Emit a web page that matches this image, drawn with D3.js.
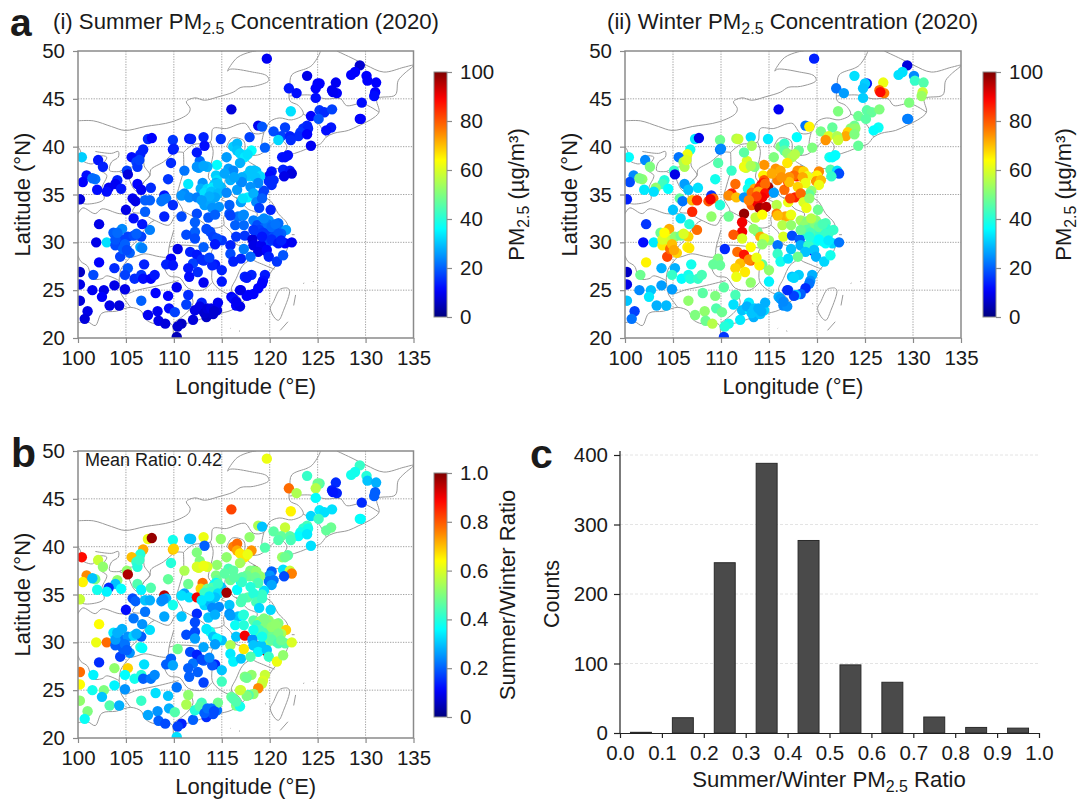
<!DOCTYPE html>
<html><head><meta charset="utf-8">
<script src="https://cdn.jsdelivr.net/npm/d3@7"></script>
<style>
html,body{margin:0;padding:0;background:#fff}
svg{display:block}
text{font-family:"Liberation Sans",Arial,sans-serif;fill:#1a1a1a}
</style></head><body>
<svg id="c" width="1080" height="803"></svg>
<script>
// Stations: [longitude, latitude, summer PM2.5, winter PM2.5, summer/winter ratio]
const northeast=[[119.7,49.2,10,14,.62],[129.4,48.5,7,8,.42],[128.9,47.8,11,33,.38],[128.5,47.5,11,33,.38],[130.1,47.4,11,24,.4],[130.2,46.9,11,42,.3],[131.1,46.7,11,45,.28],[123.9,47.4,9,33,.42],[125.2,46.6,11,13,.45],[125,46.6,11,31,.48],[124.8,46.1,11,30,.56],[126.9,46.7,10,62,.15],[126.5,45.9,10,78,.14],[127,45.6,11,76,.14],[126.6,45.7,10,88,.13],[131,45.7,11,58,.2],[130.9,45.3,12,53,.2],[122,46.1,13,22,.78],[122.8,45.6,12,26,.55],[124.8,45.1,12,31,.36],[129.6,44.6,12,50,.15],[116,43.9,8,10,.82],[122.2,43.7,33,50,.65],[125.2,43.8,16,46,.34],[125.7,43.6,15,47,.33],[126.5,43.9,17,50,.33],[124.3,43.2,11,48,.32],[125.1,42.9,19,46,.43],[129.4,42.9,10,22,.38],[129.5,42.9,11,23,.36],[126.4,42,13,37,.48],[125.9,41.7,12,36,.47],[118.8,42.2,10,22,.55],[119.2,42.1,19,65,.3],[120.4,41.6,18,49,.46],[121.6,42,17,47,.58],[123.9,42.2,14,48,.44],[123.5,41.9,15,51,.42],[124,41.9,14,52,.38],[123.2,41.5,16,68,.38],[123,41.1,15,72,.36],[123.9,41.3,11,50,.34],[117.9,41,17,36,.52],[121.2,41.1,17,60,.47],[120.9,40.7,32,74,.45],[122.1,41.1,14,55,.46],[122.2,40.7,15,58,.44],[124.3,40.1,10,47,.33],[119.5,39.9,20,50,.45]];
const shandongCoast=[[121.9,39.1,12,36,.46],[121.3,38.9,13,38,.53],[121.6,38.9,12,36,.48],[120.2,37.4,13,75,.2],[120,37,12,65,.25],[121.4,37.6,14,45,.33],[122.1,37.5,13,33,.58],[122.3,37.2,8,18,.76],[121.5,36.9,9,42,.18],[119.9,36.4,15,74,.22],[120.4,36.5,15,70,.22],[120.2,36,15,62,.27],[119.4,35.4,17,52,.33],[119.2,35,17,47,.42]];
const northChina=[[116.2,40,31,50,.76],[116.6,40.3,29,42,.78],[116.6,39.6,30,46,.72],[116.9,39.3,32,52,.66],[117.4,38.9,34,55,.66],[118.1,39.6,36,48,.74],[117.7,39.2,33,56,.62],[116.9,38.3,28,66,.54],[115.5,38.9,26,50,.52],[114.5,38.1,36,74,.52],[113.5,37.9,28,50,.6],[112.7,38.5,21,60,.5],[112.4,39.4,13,46,.5],[112.6,37.8,26,58,.6],[112.4,37.9,25,62,.6],[113.1,38,27,55,.62],[115.7,37.7,26,74,.44],[116.2,37.5,24,72,.46],[114.4,37,31,65,.5],[114.5,36.5,33,80,.47],[114.4,36.2,28,85,.36],[114.2,36,30,88,.36],[114.9,35.8,29,96,.3],[115.9,36.5,28,76,.48],[116.6,35.5,26,78,.36],[117,36.3,26,83,.36],[117.9,36.9,32,86,.47],[118.4,37.5,28,28,.98],[118.3,37.5,30,76,.48],[117.97,37.5,30,74,.5],[118.6,37.4,30,68,.52],[119,36.9,32,62,.52],[117.6,37,30,78,.48],[117.1,36.8,28,74,.46],[117.1,36.3,24,70,.42],[113,36.2,25,36,.78],[112.8,35.6,28,38,.68],[113.5,35.6,32,72,.48],[114,35.7,34,84,.45],[114.6,36.1,30,78,.42],[118.5,36.8,30,72,.48],[116.3,36.8,27,74,.46],[115.3,37.2,27,72,.46],[118.8,36.2,24,62,.44],[118,35.8,25,68,.4]];
const northwest=[[107.3,40.8,15,34,.62],[107.7,40.9,11,9,.98],[109.9,40.7,16,48,.38],[109.9,39.7,13,22,.7],[110,39.8,14,24,.68],[111.6,40.84,13,55,.3],[111.8,40.8,14,58,.3],[113.1,41,14,33,.62],[113.2,40.1,12,54,.2],[114.9,40.8,16,34,.52],[106.8,39.7,14,38,.72],[106.5,39.2,14,62,.4],[105.6,38.9,12,22,.7],[106.1,38.4,17,55,.42],[106.2,37.9,16,55,.4],[106.4,38.6,17,60,.42],[100.4,38.9,31,36,.88],[102.1,38.6,13,24,.58],[102.6,37.9,14,50,.52],[105.1,37.5,17,42,.52],[105.2,37.1,8,9,.96],[100.9,37,12,24,.75],[100.5,36.3,11,18,.65],[101.8,36.6,22,52,.5],[101.5,36.7,21,50,.3],[104.1,36.5,14,40,.52],[103.9,36.1,10,43,.3],[104.5,35.6,13,36,.36],[103.2,35.7,10,52,.15],[103,35.3,12,33,.35],[102,35.5,12,34,.38],[106.2,36.1,11,26,.45],[106.6,35.5,10,30,.35],[107.6,35.7,15,33,.45],[109.4,36.6,16,38,.47],[109.7,38.3,15,45,.4],[111.1,37.5,22,42,.55],[111.5,36.1,34,78,.48],[100.2,34.5,8,14,.58]];
const central=[[105.7,34.6,10,47,.18],[106,34.3,9,22,.2],[107,34.4,20,70,.3],[107.5,34.4,20,85,.28],[108.7,34.3,22,80,.25],[109,34.9,13,16,.95],[109.2,34.6,22,78,.28],[108.9,34.5,22,90,.24],[109.9,33.9,15,40,.38],[105,33.4,9,30,.12],[105.8,32.5,12,33,.22],[106.7,31.9,13,40,.25],[107,33.2,20,85,.22],[109,32.7,14,52,.27],[110.8,32.7,18,48,.3],[111.1,35.1,24,86,.27],[110.8,34.9,25,75,.33],[111.6,34.7,24,70,.33],[112.4,34.7,23,25,.9],[112.4,33,18,98,.15],[112.2,32.1,20,90,.18],[112.2,31.1,20,90,.18],[111.3,30.8,18,80,.18],[112.2,30.4,18,60,.26],[113.2,35.2,33,78,.42],[113.9,35.3,30,72,.42],[114.6,35.1,29,88,.33],[113.2,33.9,26,80,.32],[113.8,34.1,27,90,.28],[114,33.6,25,97,.24],[114.7,33.7,25,95,.24],[114.3,34.7,27,90,.3],[113.7,34.8,28,82,.34],[112.9,34.4,26,76,.34],[115.5,35.2,24,26,.97],[115.8,33.9,20,56,.3],[115.8,33,19,76,.25],[116.7,32.7,22,72,.3],[117.2,32.8,24,70,.36],[115.9,32.8,17,70,.26],[116.4,31.8,20,56,.37],[117.3,31.8,21,52,.4],[117,34.2,26,62,.44],[117.7,34.7,35,86,.46],[117.2,34.6,33,82,.44],[118.3,35.1,28,78,.4],[118.6,34.2,24,60,.44],[119.2,34.6,20,52,.42],[118.9,33.6,17,62,.32],[120.1,33.4,14,48,.32],[117.3,32.9,24,62,.4],[113.6,32.6,19,58,.3],[114.3,32.9,20,64,.28]];
const yangtzeDelta=[[118.3,32.3,23,54,.46],[119,32.2,24,50,.52],[119.9,32.3,25,52,.52],[120.9,32,21,44,.5],[121,31.4,21,41,.52],[121.7,31.3,26,42,.68],[118.7,31.8,18,52,.42],[119.5,31.6,20,48,.5],[120.4,31.3,18,45,.48],[120.1,30.9,16,42,.47],[118.6,30.9,16,40,.42],[120.4,30.6,18,42,.48],[120.6,30.1,17,40,.46],[119.9,30.1,17,38,.5],[117.4,30.7,16,18,.9],[118.2,30.3,8,20,.25],[118.9,29.6,8,9,.98],[119.6,29.1,9,11,.95],[118.3,29.7,9,28,.3],[119.1,29.7,10,42,.3],[118.8,29,9,30,.35],[119.7,29.2,11,30,.3],[119.9,28.5,14,28,.42],[121.6,29.9,11,32,.46],[122.3,30,10,22,.6],[120.75,28,16,32,.62],[121.4,28.65,19,38,.52],[118,28.5,21,48,.45],[117.3,29.3,23,30,.66],[119.8,31.9,22,50,.5],[120.2,31.6,21,47,.52],[120.6,31.9,22,44,.52],[121.2,30.9,20,42,.55],[119.4,32.5,24,56,.5],[118.9,31.3,17,46,.44],[119.3,31,16,44,.44],[120.9,30.9,19,42,.5],[120.2,30.3,15,36,.46],[120.9,29.9,13,36,.44],[118.3,31.3,16,48,.38],[119.2,30.6,13,40,.38],[121.2,30.2,14,34,.48]];
const fujianCoast=[[118.1,26.6,14,31,.52],[117.6,26.3,13,32,.48],[119.5,26.6,13,28,.58],[119.3,26,12,25,.6],[119.2,25.7,11,22,.58],[118.8,25.2,11,15,.75],[118.3,24.6,11,20,.52],[117.8,24.5,11,30,.45],[117.6,24.4,11,17,.5],[116.9,25,9,15,.58]];
const centralSouth=[[113.8,31.1,18,48,.38],[114.1,30.6,17,72,.3],[115,30.2,16,52,.3],[114.5,30.4,18,60,.35],[113.1,29.5,20,64,.27],[114.3,29.8,13,52,.26],[115.9,29.7,14,22,.55],[116.5,30.6,16,60,.3],[110.4,29.3,9,15,.48],[111.7,29,14,78,.18],[112.4,28.7,13,87,.14],[113.1,28.1,15,78,.2],[112,27.8,17,70,.22],[111.5,27.3,13,68,.2],[112.5,26.9,15,66,.2],[113.1,25.8,10,52,.17],[111.6,26.4,12,62,.2],[114.3,27.7,13,47,.14],[114,27.6,14,65,.19],[115,27.1,14,52,.3],[115,25.9,13,35,.43],[115.9,28.8,18,42,.34],[116.2,28,14,38,.35],[117,28.3,14,33,.3],[117.4,26.4,14,30,.5],[117,25,11,18,.6],[109.7,28.3,11,50,.2],[109.2,27.7,14,47,.2],[109.9,27.6,13,47,.27],[112.9,28.2,15,75,.18],[113.7,28.4,17,62,.24],[113.4,31.4,18,52,.34]];
const southwest=[[102.2,31.9,9,16,.64],[101.9,30,9,12,.62],[103,30,33,34,.78],[103.7,31,20,48,.34],[104.6,31.4,24,72,.28],[104.2,30.6,20,62,.25],[103.9,29.7,18,66,.2],[104.7,30.2,17,58,.22],[104.4,28.5,17,82,.17],[104.7,29.3,20,78,.2],[105.4,28.9,20,68,.25],[105.2,30.6,17,52,.25],[105.8,30.7,18,48,.32],[106.6,30.6,17,68,.2],[106.1,30.9,20,60,.28],[107.5,31.3,23,78,.33],[106.5,29.5,27,65,.4],[106.7,29.4,23,66,.36],[106.9,27.7,14,38,.33],[105.2,27.3,19,28,.68],[104.9,26.6,17,42,.36],[105.9,26.2,15,36,.38],[106.6,26.6,16,38,.4],[106.8,26.2,12,40,.2],[107.6,26.2,11,42,.22],[108,26.6,13,44,.24],[103.8,27.3,15,28,.52],[101.6,26.6,18,48,.35],[102.2,27.9,11,65,.15],[100.2,26.9,6,6,.78],[100.2,25.6,9,9,.64],[101.5,25,10,24,.38],[102.7,25,9,30,.5],[102.5,24.3,11,34,.3],[103.8,25.5,9,26,.35],[104.9,25.1,9,26,.25],[103.9,30.3,19,60,.26],[104.1,31,21,64,.28],[104.9,29.8,20,70,.22],[105.1,29.2,18,72,.2]];
const south=[[110.3,25.3,10,46,.22],[108.1,24.7,11,46,.33],[109.4,24.4,11,50,.3],[111.5,24.5,15,44,.52],[106.6,23.9,20,52,.42],[100.2,23.9,8,30,.52],[103.3,23.4,9,28,.45],[104.3,23.4,8,29,.28],[101,22.8,9,17,.5],[100.7,22,8,22,.37],[107.3,22.4,10,50,.27],[108.3,22.8,10,52,.25],[108.4,21.8,9,48,.2],[109.1,21.5,8,56,.18],[109.5,23.1,12,45,.28],[110.1,22.7,17,48,.45],[111.3,23.5,17,33,.55],[112,21.9,8,34,.2],[110.8,21.5,6,38,.14],[110.4,21.2,7,40,.17],[110.3,20.1,5,16,.33],[112.9,23.7,14,34,.43],[112.2,22.9,9,30,.4],[113,22.9,8,36,.38],[113.8,22.7,7,36,.2],[114.5,22.9,8,32,.22],[113.4,22.2,6,28,.15],[114.1,22.5,7,30,.18],[114.6,23.7,10,28,.48],[116,24.3,11,28,.47],[116.5,23.4,11,24,.5],[116.2,24.1,12,26,.45],[116.9,23.3,9,25,.38],[116.5,23.8,10,24,.45],[112.7,23.3,9,28,.45],[113.6,23,7,31,.2],[113.2,22.6,7,30,.2],[113.5,23.1,8,30,.22],[113.9,23.1,9,28,.22],[114.2,22.8,7,28,.18]];
const stations=[...northeast,...shandongCoast,...northwest,...southwest,...south,...centralSouth,...fujianCoast,...northChina,...central,...yangtzeDelta];

// Boundaries as [lon, lat] polylines
const mongoliaBorder=[[100,42.7],[101.6,42.7],[103.5,42.1],[104.9,41.7],[107,42.1],[109.8,42.6],[111.5,43.45],[111.7,44],[111.3,44.7],[112.2,45.1],[113.2,44.85],[114.6,45.2],[116.2,45.7],[117,46.2],[118.3,46.3],[119.9,46.9],[119.7,47.4],[118.2,47.8],[115.9,48.1],[115.6,47.9],[116.6,49.3],[118,49.9],[118.6,50]];
const northeastBorder=[[127,50],[128.7,49.2],[130.1,48.5],[131.9,47.8],[134,48.3],[135,48.5],[134,47.6],[133.4,46.9],[133.1,45.4],[131.2,45],[131.4,43.6],[130.5,42.8],[129.3,42.2],[128.2,41.7],[126.7,41.4],[125.9,41],[125.3,40.3],[124.4,40]];
const coastline=[[124.4,40],[123.2,39.5],[122,39.1],[121.2,38.8],[121.8,40],[121,40.8],[120,40],[119,39.2],[118,39],[117.7,38.6],[118.8,37.8],[119.2,37.2],[120.5,37.7],[122.4,37.4],[121,36.7],[120.2,36],[119.3,35],[120.2,34.2],[120.9,33],[121.8,32],[121.9,31],[120.9,30.4],[121.9,29.9],[121.7,29],[121,28],[120.2,27],[119.6,26],[119,25.2],[118,24.5],[117,23.6],[116,22.9],[114.5,22.5],[113.5,22.2],[112,21.7],[110.5,21.2],[110,20.3],[109.8,21.4],[108.5,21.7],[108,21.5],[107,22],[106.6,22.8],[105.5,23.2],[104,22.8],[102.5,22.6],[101.8,21.3],[101,21.7],[100,21.6]];
const innerMongoliaEast=[[125.3,50],[125.1,49.5],[124.4,48.5],[123.9,48.2],[122.3,47.5],[122.1,46.2],[122.1,44.8],[123,44.3],[123.5,43.4],[122.3,42.8],[121,43],[120,42.6],[119.4,41.5],[118.3,41.4],[117.5,42.4],[116.9,42.4],[115.5,41.9],[114.1,41.9],[113.8,40.5],[112,40.2],[111,39.4]];
const jilinBorders=[[122.1,45.3],[124.2,45.4],[125.8,45],[127.4,45],[128,44.3],[129.7,44.5],[131.4,43.6]];
const liaoningBorder=[[123.5,43.4],[125,42.5],[125.9,41]];
const hebeiEast=[[119.4,41.5],[119.2,40.2],[119.6,39.9]];
const hebeiShandong=[[115.3,36],[115.5,37],[116.5,37.7],[117.5,38.3]];
const beijingRing=[[115.5,40],[116.1,40.9],[117.3,40.6],[117.3,39.5],[116.4,39.4],[115.5,40]];
const ningxia=[[104.3,37.4],[105.2,37.8],[105.9,38],[106.2,39.3],[106.8,39.2],[106.9,38],[107.5,37],[106.8,36.2],[106.5,35.2],[105.9,35.5],[105.5,36.2],[105.2,36.9],[104.3,37.4]];
const shaanxi=[[111,39.4],[110.2,39.4],[108.9,38.4],[107.6,37.6],[107.5,37],[106.8,36.2],[106.5,35.2],[106.6,34.7],[105.7,33.2],[106.7,33],[108,32.3],[109.5,31.8],[110.1,32.7],[110.9,33.3],[110.3,34.6],[110.6,36],[111,37.5],[111,39.4]];
const shanxiEast=[[113.8,40.5],[114.1,39.5],[113.8,37.8],[113.6,36.8],[114,36.1],[113,35.2],[110.3,34.6]];
const henan=[[114,36.1],[115.3,36],[116,35],[115,34.5],[116,33.9],[115.2,32.6],[115.2,31.8],[114,31.5],[112.7,32.3],[110.9,33.3]];
const shandongSouth=[[116,35],[116.4,34.7],[118,34.6],[119.3,35]];
const jiangsuAnhui=[[116.4,34.7],[117,34.2],[117.7,33.5],[118.7,33],[118.5,32.3],[119,31.5],[119.6,31.2],[120.9,31]];
const anhuiWest=[[115.2,31.8],[116,31],[116.5,29.8],[117.5,29.6],[118.4,29.2],[119.1,30.3],[119.6,31.2]];
const zhejiangSouth=[[118.4,29.2],[118.2,28.3],[119.5,27.6],[120.5,27.2]];
const fujianJiangxi=[[118.2,28.3],[117.2,27.6],[116.5,26.2],[116,25],[116.8,24.3],[117.2,23.6]];
const jiangxiWest=[[116.5,29.8],[115,29.8],[114,29.2],[114,27.5],[114,26],[114.5,25.3],[115.8,24.6],[116,25]];
const hubeiHunan=[[114,29.4],[112.5,29.6],[110.5,29.7],[109.5,29.5]];
const chongqing=[[110,31.3],[109.5,29.5],[109.3,28.5],[108.5,28.5],[107,28.8],[105.5,28.5],[105.5,29.5],[106,30],[107.5,32],[108,32.3]];
const hunanSouth=[[114,25.8],[113,25],[111.5,25.2],[110.6,26.3],[109.5,26.5],[109,27.5],[109.3,28.5]];
const guangxiEast=[[111.5,25],[112,23.7],[111.4,22.7],[110,21.6]];
const guangxiNorth=[[110.5,26],[108.5,25.5],[106.2,25],[105,24.6],[104.5,24.7],[105.5,23.2]];
const guizhouWest=[[105.5,28.5],[104.5,27.2],[104.3,26],[104.5,24.7]];
const yunnanNorth=[[104.3,26],[103,26.5],[102.5,26.2],[101.5,26.2],[101,27.5],[100.3,28],[100,28.6]];
const sichuanNorth=[[105.7,33],[104.3,33],[102.5,33.5],[101.8,33],[100.5,33.6],[100,33]];
const gansuQinghai=[[100,40],[100.3,39.4],[100,38.9],[101.5,38.2],[102.2,39],[103,38.9],[102.3,37.6],[103,37],[102.5,35.7],[102.7,34.5],[101,34],[100,34.2]];
const gansuNorth=[[101.8,39.5],[103.5,39.3],[104.2,39.5],[104.2,38.9],[103.5,38.4],[103.3,37.5],[104.3,37.4]];
const taiwan=[[121.8,25.24],[121.1,25.1],[120.4,23.8],[120.06,23.08],[120.58,22.03],[120.93,21.86],[121.45,22.9],[122.07,25],[121.8,25.24]];
const islandA=[[122.5,23.4],[122.7,24.5]];
const islandB=[[121.1,20.8],[121.9,21.7]];
const islandC=[[115.9,21],[115.95,21.05]];
const islandD=[[116.8,20.75],[116.9,20.7]];
const islandE=[[123.5,25.7],[123.6,25.75]];
const islandF=[[124.5,25.9],[124.6,25.9]];
const islandG=[[119.5,23.6],[119.6,23.55]];
const islandH=[[122.3,30.8],[122.6,30.8]];
const boundaries=[mongoliaBorder,northeastBorder,coastline,innerMongoliaEast,jilinBorders,liaoningBorder,hebeiEast,hebeiShandong,beijingRing,ningxia,shaanxi,shanxiEast,henan,shandongSouth,jiangsuAnhui,anhuiWest,zhejiangSouth,fujianJiangxi,jiangxiWest,hubeiHunan,chongqing,hunanSouth,guangxiEast,guangxiNorth,guizhouWest,yunnanNorth,sichuanNorth,gansuQinghai,gansuNorth,taiwan,islandA,islandB,islandC,islandD,islandE,islandF,islandG,islandH];

const lonTicks=[100,105,110,115,120,125,130,135];
const latTicks=[20,25,30,35,40,45,50];
const pmTicks=[0,20,40,60,80,100];
const ratioTicks=[0,0.2,0.4,0.6,0.8,1.0];
const ratioTickLabels=["0","0.2","0.4","0.6","0.8","1.0"];

// Histogram
const binCentres=[0.05,0.15,0.25,0.35,0.45,0.55,0.65,0.75,0.85,0.95];
const binCounts=[1,22,245,388,277,98,73,23,8,7];
const countTicks=[0,100,200,300,400];
const ratioBinTicks=[0,.1,.2,.3,.4,.5,.6,.7,.8,.9,1];

const jetStops=["#00007f","#0000ff","#007fff","#00ffff","#7fff7f","#ffff00","#ff7f00","#ff0000","#7f0000"];
const jet=d3.scaleLinear().domain([0,.11,.23,.36,.5,.64,.76,.89,1]).range(jetStops).clamp(true);

const svg=d3.select("#c");
const defs=svg.append("defs");
const grad=defs.append("linearGradient").attr("id","jet").attr("x1",0).attr("y1",1).attr("x2",0).attr("y2",0);
d3.range(0,1.001,.02).forEach(t=>grad.append("stop").attr("offset",t).attr("stop-color",jet(t)));

const GREY="#8a8a8a", TICKFS=20.5, LABFS=22;

function subText(sel,before,sub,after){
  sel.append("tspan").text(before);
  sel.append("tspan").attr("font-size","0.72em").attr("dy","0.3em").text(sub);
  sel.append("tspan").attr("dy","-0.216em").text(after);
}

function mapPanel(o){
  const g=svg.append("g");
  const x=d3.scaleLinear().domain([100,135]).range([o.x0,o.x1]);
  const y=d3.scaleLinear().domain([20,50]).range([o.y1,o.y0]);
  const cid="clip"+o.id;
  defs.append("clipPath").attr("id",cid).append("rect").attr("x",o.x0).attr("y",o.y0).attr("width",o.x1-o.x0).attr("height",o.y1-o.y0);
  const grid=g.append("g").attr("stroke","#8a8a8a").attr("stroke-width",0.8).attr("stroke-dasharray","1.3 1.3");
  lonTicks.slice(1,-1).forEach(t=>grid.append("line").attr("x1",x(t)).attr("x2",x(t)).attr("y1",o.y0).attr("y2",o.y1));
  latTicks.slice(1,-1).forEach(t=>grid.append("line").attr("y1",y(t)).attr("y2",y(t)).attr("x1",o.x0).attr("x2",o.x1));
  const clipG=g.append("g").attr("clip-path",`url(#${cid})`);
  const line=d3.line().x(d=>x(d[0])).y(d=>y(d[1])).curve(d3.curveCatmullRom.alpha(0.5));
  clipG.selectAll("path.b").data(boundaries).join("path").attr("class","b").attr("d",line).attr("fill","none").attr("stroke","#999").attr("stroke-width",1);
  clipG.selectAll("circle").data(stations).join("circle").attr("cx",d=>x(d[0])).attr("cy",d=>y(d[1])).attr("r",5.2)
    .attr("fill",d=>jet(d[o.col]/o.max));
  g.append("rect").attr("x",o.x0).attr("y",o.y0).attr("width",o.x1-o.x0).attr("height",o.y1-o.y0).attr("fill","none").attr("stroke",GREY).attr("stroke-width",1.5);
  const ax=g.append("g").attr("transform",`translate(0,${o.y1})`).call(d3.axisBottom(x).tickValues(lonTicks).tickSize(5).tickPadding(7));
  const ay=g.append("g").attr("transform",`translate(${o.x0},0)`).call(d3.axisLeft(y).tickValues(latTicks).tickSize(5).tickPadding(8));
  [ax,ay].forEach(a=>{a.select(".domain").remove();a.selectAll("line").attr("stroke",GREY).attr("stroke-width",1.2);a.selectAll("text").attr("font-size",TICKFS).attr("fill","#1a1a1a").style("font-family",'"Liberation Sans"');});
  g.append("text").attr("x",(o.x0+o.x1)/2).attr("y",o.y1+56).attr("text-anchor","middle").attr("font-size",LABFS).text("Longitude (°E)");
  g.append("text").attr("transform",`translate(${o.x0-48},${(o.y0+o.y1)/2}) rotate(-90)`).attr("text-anchor","middle").attr("font-size",LABFS).text("Latitude (°N)");
  // colour bar
  const cy=d3.scaleLinear().domain([0,o.max]).range([o.cby1,o.cby0]);
  g.append("rect").attr("x",o.cbx).attr("y",o.cby0).attr("width",o.cbw).attr("height",o.cby1-o.cby0).attr("fill","url(#jet)").attr("stroke",GREY).attr("stroke-width",1);
  const ac=g.append("g").attr("transform",`translate(${o.cbx+o.cbw},0)`).call(d3.axisRight(cy).tickValues(o.ticks).tickFormat((d,i)=>o.labels[i]).tickSize(5).tickPadding(8));
  ac.select(".domain").remove();ac.selectAll("line").attr("stroke",GREY).attr("stroke-width",1.2);ac.selectAll("text").attr("font-size",TICKFS).attr("fill","#1a1a1a").style("font-family",'"Liberation Sans"');
  const lab=g.append("text").attr("transform",`translate(${o.cbx+o.cbLabelDx},${(o.cby0+o.cby1)/2}) rotate(-90)`).attr("text-anchor","middle").attr("font-size",LABFS);
  o.cbLabel(lab);
}

mapPanel({id:"a",x0:78,x1:413.5,y0:51,y1:338,col:2,max:100,cbx:434,cbw:13,cby0:72,cby1:317,ticks:pmTicks,labels:pmTicks.map(String),cbLabelDx:90,cbLabel:s=>subText(s,"PM","2.5"," (µg/m³)")});
mapPanel({id:"b",x0:625,x1:961,y0:51,y1:338,col:3,max:100,cbx:983,cbw:13,cby0:72,cby1:317,ticks:pmTicks,labels:pmTicks.map(String),cbLabelDx:88,cbLabel:s=>subText(s,"PM","2.5"," (µg/m³)")});
mapPanel({id:"c",x0:78,x1:413.5,y0:451,y1:738,col:4,max:1,cbx:434,cbw:13,cby0:473,cby1:717,ticks:ratioTicks,labels:ratioTickLabels,cbLabelDx:81,cbLabel:s=>s.text("Summer/Winter Ratio")});

// titles & panel letters
subText(svg.append("text").attr("x",53).attr("y",29).attr("font-size",22.2),"(i) Summer PM","2.5"," Concentration (2020)");
subText(svg.append("text").attr("x",607).attr("y",29).attr("font-size",22.2),"(ii) Winter PM","2.5"," Concentration (2020)");
svg.append("text").attr("x",85).attr("y",466).attr("font-size",18).text("Mean Ratio: 0.42");
[["a",10,35.5,39],["b",11,467,41],["c",530,468,41]].forEach(d=>svg.append("text").attr("x",d[1]).attr("y",d[2]).attr("font-size",d[3]).attr("font-weight","bold").attr("fill","#000").text(d[0]));

// histogram
(function(){
  const x=d3.scaleLinear().domain([0,1]).range([620,1039]);
  const y=d3.scaleLinear().domain([0,400]).range([733,455]);
  const g=svg.append("g");
  countTicks.slice(1).forEach(t=>g.append("line").attr("x1",x(0)).attr("x2",x(1)).attr("y1",y(t)).attr("y2",y(t)).attr("stroke","#e4e4e4").attr("stroke-width",1).attr("stroke-dasharray","3 2"));
  g.selectAll("rect").data(binCentres).join("rect").attr("x",d=>x(d-0.025)).attr("width",x(0.05)-x(0))
    .attr("y",(d,i)=>y(binCounts[i])).attr("height",(d,i)=>y(0)-y(binCounts[i]))
    .attr("fill","#4a4a4a").attr("stroke","#2a2a2a").attr("stroke-width",1);
  const ax=g.append("g").attr("transform","translate(0,733)").call(d3.axisBottom(x).tickValues(ratioBinTicks).tickFormat(d3.format(".1f")).tickSize(5).tickSizeOuter(0).tickPadding(7));
  const ay=g.append("g").attr("transform","translate(620,0)").call(d3.axisLeft(y).tickValues(countTicks).tickSize(6).tickPadding(6));
  ay.select(".domain").attr("d","M0,733V451");
  [ax,ay].forEach(a=>{a.select(".domain").attr("stroke","#222").attr("stroke-width",1.2);a.selectAll("line").attr("stroke","#222").attr("stroke-width",1.2);a.selectAll("text").attr("font-size",20.5).attr("fill","#1a1a1a").style("font-family",'"Liberation Sans"');});
  subText(g.append("text").attr("x",829).attr("y",787).attr("text-anchor","middle").attr("font-size",22.2),"Summer/Winter PM","2.5"," Ratio");
  g.append("text").attr("transform","translate(559,594) rotate(-90)").attr("text-anchor","middle").attr("font-size",21.5).text("Counts");
})();
</script></body></html>
